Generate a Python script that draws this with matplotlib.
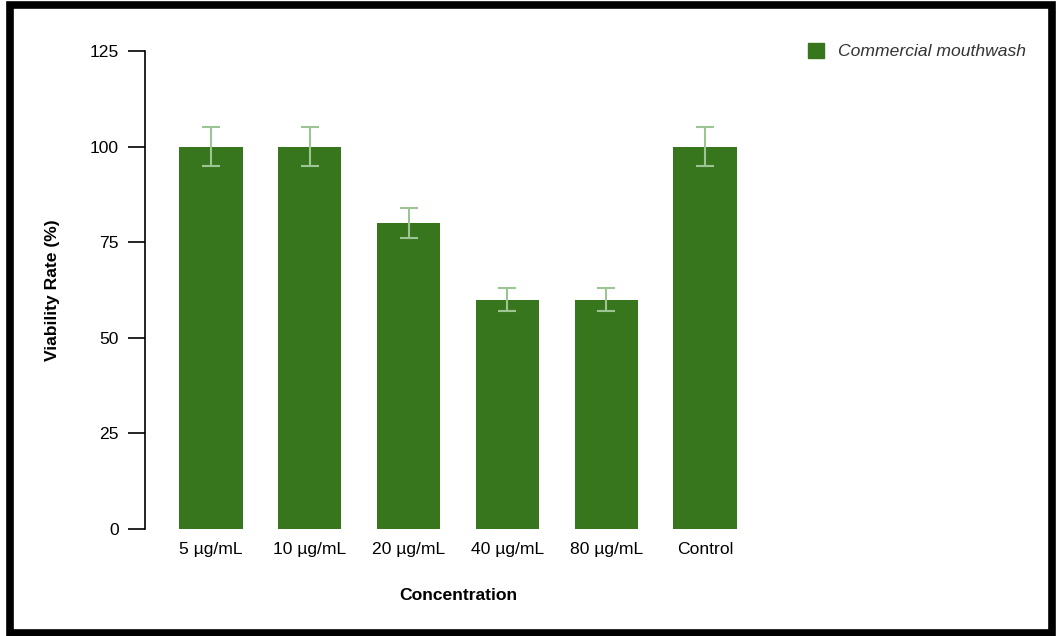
import numpy as np
import matplotlib.pyplot as plt
from matplotlib.patches import Rectangle, Patch

# Data
categories = ['5 µg/mL', '10 µg/mL', '20 µg/mL', '40 µg/mL', '80 µg/mL', 'Control']
viability  = [100, 100, 80, 60, 60, 100]
errors     = [5, 5, 4, 3, 3, 5]
yticks     = [0, 25, 50, 75, 100, 125]

bar_color = '#38761d'
err_color = '#9cc495'
fs = 12.6

plt.rcParams['font.family'] = ['Liberation Sans', 'DejaVu Sans']

fig = plt.figure(figsize=(10.57, 6.36), dpi=100)
ax = fig.add_axes([145 / 1057, (636 - 529) / 636, (771 - 145) / 1057, (529 - 51) / 636])

x = np.arange(len(categories))
ax.bar(x, viability, width=0.64, color=bar_color, zorder=2)
ax.errorbar(x, viability, yerr=errors, fmt='none', ecolor=err_color,
            elinewidth=1.5, capsize=6.5, capthick=1.5, zorder=3)

ax.set_xlim(-0.668, len(categories) - 1 + 0.668)
ax.set_ylim(0, 125)
ax.set_yticks(yticks)
ax.set_xticks(x)
ax.set_xticklabels(categories)

for s in ['top', 'right', 'bottom']:
    ax.spines[s].set_visible(False)
ax.spines['left'].set_linewidth(1.2)
ax.tick_params(axis='y', length=12, width=1.2, pad=7, labelsize=fs)
ax.tick_params(axis='x', length=0, pad=9.5, labelsize=fs)

ax.set_ylabel('Viability Rate (%)', fontsize=fs, fontweight='bold', labelpad=21)
ax.set_xlabel('Concentration', fontsize=fs, fontweight='bold', labelpad=22)

handle = Patch(facecolor=bar_color, edgecolor=bar_color, label='Commercial mouthwash')
leg = fig.legend(handles=[handle], loc='upper right', bbox_to_anchor=(1042 / 1057, 1 - 27 / 636),
                 frameon=False, handlelength=0.95, handleheight=0.95,
                 handletextpad=0.8, prop={'style': 'italic', 'size': fs})
for t in leg.get_texts():
    t.set_color('#333333')

# Black frame around the whole figure
fig.patches.append(Rectangle((0.009, 0.0055), 0.986, 0.986, transform=fig.transFigure,
                             fill=False, edgecolor='black', linewidth=5.5))

fig.savefig('out.png', dpi=100)
